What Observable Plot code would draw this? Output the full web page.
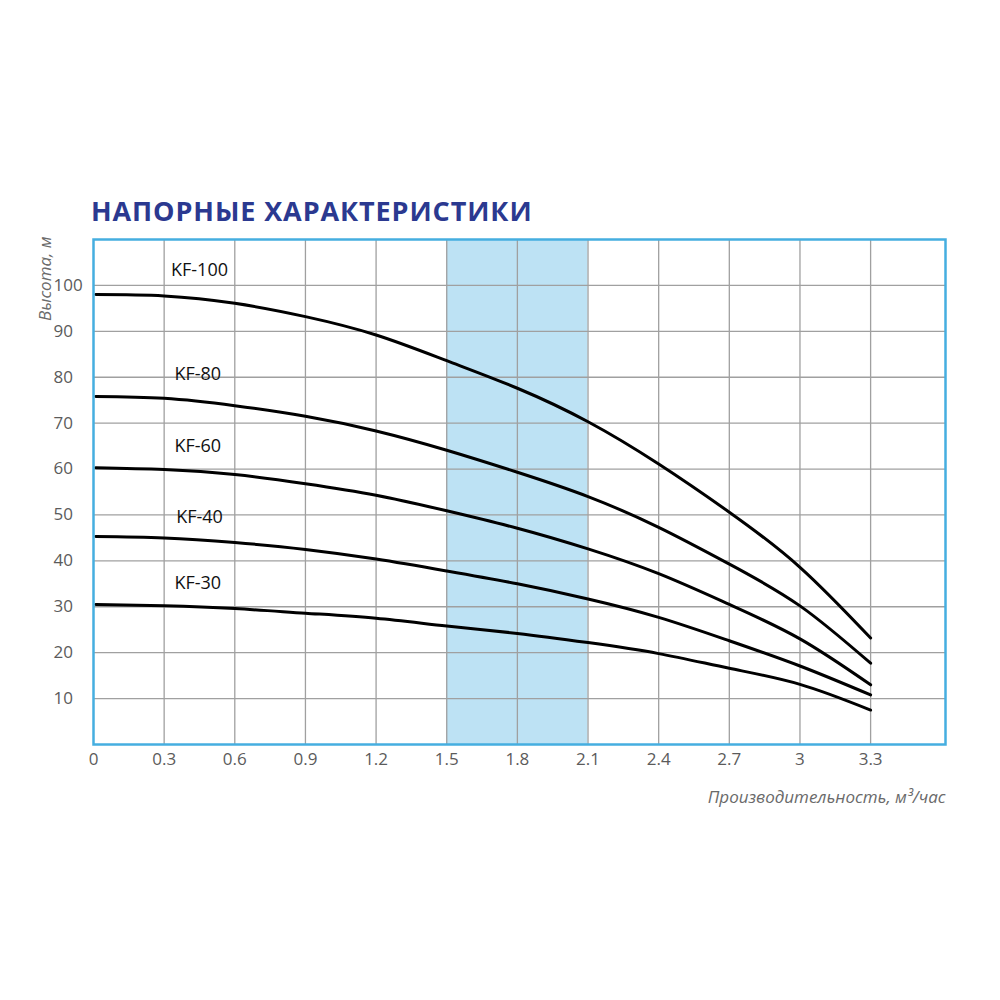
<!DOCTYPE html>
<html><head><meta charset="utf-8">
<script src="https://cdn.jsdelivr.net/npm/d3@7"></script>
<script src="https://cdn.jsdelivr.net/npm/@observablehq/plot@0.6"></script>
<style>
body{margin:0;background:#fff;width:1000px;height:1000px;position:relative;overflow:hidden;}
#title{position:absolute;left:91px;top:197px;font-family:"Open Sans",sans-serif;font-weight:700;font-size:27px;line-height:27px;letter-spacing:0.9px;color:#2b3990;white-space:nowrap;}
#chart{position:absolute;left:0;top:230px;}
</style></head>
<body>
<div id="title">НАПОРНЫЕ ХАРАКТЕРИСТИКИ</div>
<div id="chart"></div>
<script>
// flow rate, m3/h
const flow = [0.01, 0.3, 0.6, 0.9, 1.2, 1.5, 1.8, 2.1, 2.4, 2.7, 3.0, 3.3];
// head, m
const kf100 = [98.0, 97.7, 96.1, 93.2, 89.2, 83.6, 77.6, 70.3, 61.1, 50.6, 38.6, 23.2];
const kf80  = [75.8, 75.4, 73.8, 71.5, 68.3, 64.1, 59.3, 54.0, 47.3, 39.3, 30.2, 17.7];
const kf60  = [60.3, 59.9, 58.8, 56.8, 54.3, 50.9, 47.1, 42.6, 37.2, 30.5, 23.0, 13.0];
const kf40  = [45.3, 45.0, 44.0, 42.5, 40.4, 37.8, 35.0, 31.7, 27.7, 22.6, 17.1, 10.8];
const kf30  = [30.5, 30.2, 29.6, 28.6, 27.5, 25.8, 24.2, 22.2, 19.8, 16.6, 13.1, 7.5];
const seriesNames = ["KF-100", "KF-80", "KF-60", "KF-40", "KF-30"];
const seriesValues = [kf100, kf80, kf60, kf40, kf30];
// curve label positions
const labelX = [0.45, 0.443, 0.443, 0.45, 0.443];
const labelY = [103.4, 80.6, 65.0, 49.6, 35.2];
// axes
const xTicks = [0, 0.3, 0.6, 0.9, 1.2, 1.5, 1.8, 2.1, 2.4, 2.7, 3, 3.3];
const yTicks = [10, 20, 30, 40, 50, 60, 70, 80, 90, 100];
const bandStart = [1.5];
const bandEnd = [2.1];
const yTitle = "Высота, м";
const xTitle = "Производительность, м³/час";

const data = seriesNames.flatMap((name, si) => flow.map((q, i) => ({name, q, h: seriesValues[si][i]})));
const labels = seriesNames.map((name, i) => ({name, x: labelX[i], y: labelY[i]}));
const band = bandStart.map((s, i) => ({x1: s, x2: bandEnd[i]}));

const font = '"Open Sans",sans-serif';

const chart = Plot.plot({
  width: 1000,
  height: 610,
  marginTop: 9,
  marginBottom: 96,
  marginLeft: 93,
  marginRight: 55,
  style: {fontFamily: font, color: "#5b5b5b", background: "transparent", overflow: "visible"},
  x: {domain: [0, 3.618]},
  y: {domain: [0, 110]},
  marks: [
    Plot.rect(band, {x1: "x1", x2: "x2", fill: "#bde2f4"}),
    Plot.ruleX(xTicks.filter(d => d > 0), {stroke: "#a0a0a0", strokeWidth: 1.3}),
    Plot.ruleY(yTicks, {stroke: "#a0a0a0", strokeWidth: 1.3}),
    Plot.line(data, {x: "q", y: "h", z: "name", curve: "natural", stroke: "#000", strokeWidth: 3}),
    Plot.text(labels, {x: "x", y: "y", text: "name", fill: "#111", fontSize: 18}),
    Plot.axisX(xTicks, {tickSize: 0, tickPadding: 8, fontSize: 17, label: null, tickFormat: d => String(d)}),
    Plot.axisY(yTicks, {tickSize: 0, tickPadding: 40, textAnchor: "start", fontSize: 17, label: null}),
    Plot.text([yTitle], {frameAnchor: "top-left", text: d => d, rotate: -90, textAnchor: "end", dx: -55, dy: -3, fontSize: 17, fontStyle: "italic", fill: "#6a6a6a"}),
    Plot.text([xTitle], {frameAnchor: "bottom-right", text: d => d, textAnchor: "end", dy: 58, fontSize: 17, fontStyle: "italic", fill: "#6a6a6a"}),
    Plot.frame({stroke: "#45aee0", strokeWidth: 2.5})
  ]
});
document.getElementById("chart").appendChild(chart);
</script>
</body></html>
